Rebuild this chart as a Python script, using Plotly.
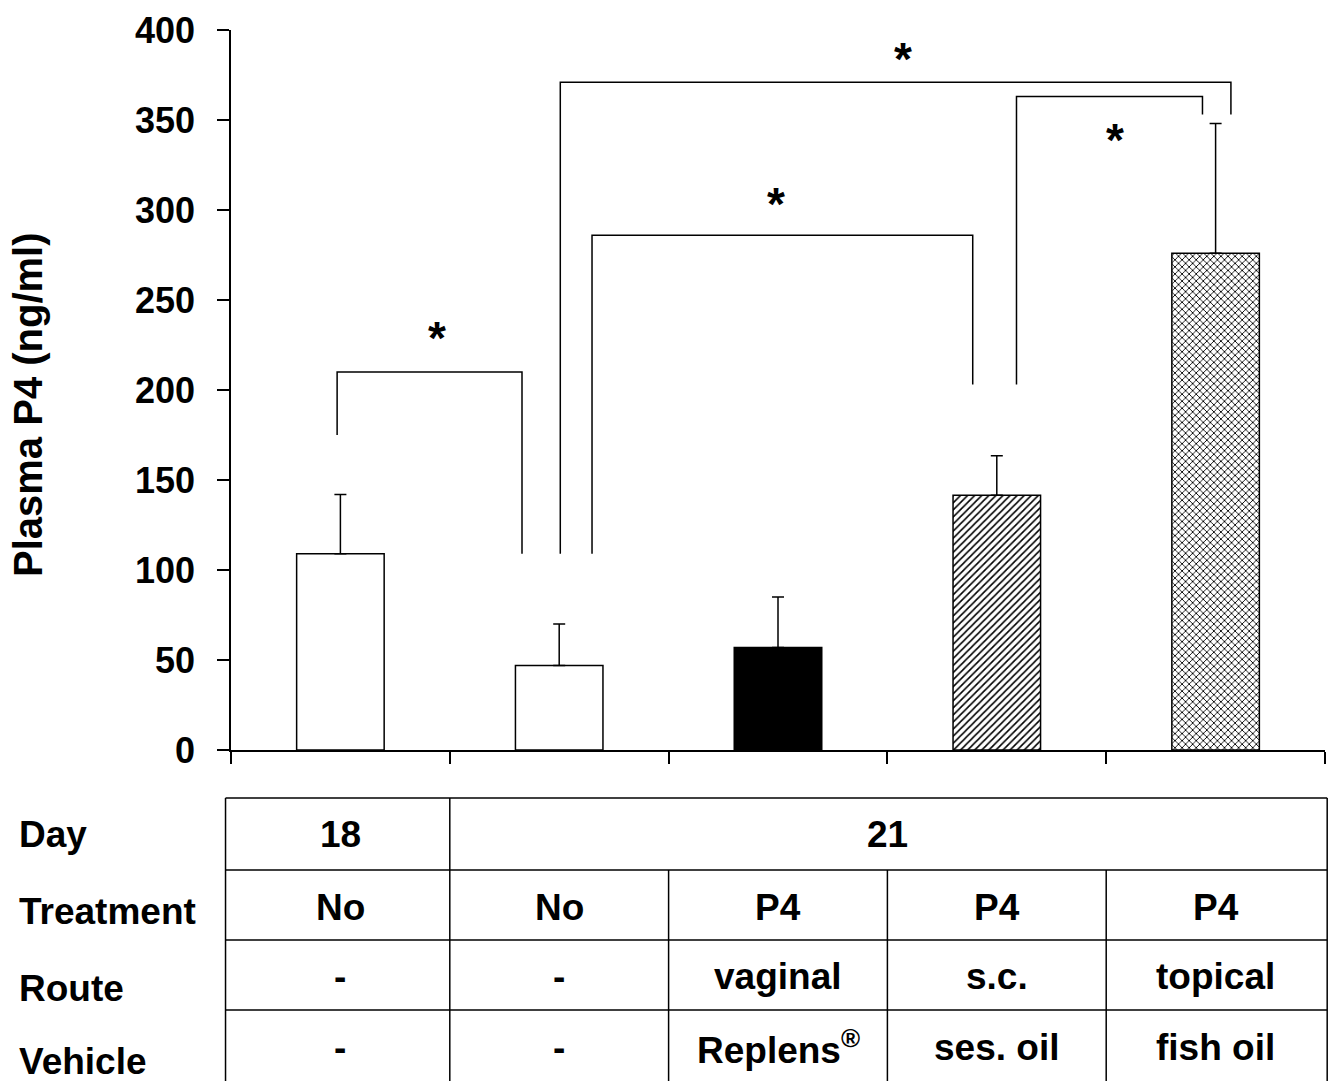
import plotly.graph_objects as go

# ---------------- data ----------------
groups = ["Day 18 no treatment", "Day 21 no treatment", "P4 vaginal Replens",
          "P4 s.c. sesame oil", "P4 topical fish oil"]
group_index = [0, 1, 2, 3, 4]
p4_mean = [109, 47, 57, 141.5, 276]
p4_sem = [33, 23, 28, 22, 72]
bar_colors = ["white", "white", "black", "white", "white"]
bar_patterns = ["", "", "", "/", "x"]

y_ticks = [0, 50, 100, 150, 200, 250, 300, 350, 400]

# significance brackets (x in group index units, y in ng/ml)
bracket_x = [[-0.015, -0.015, 0.83, 0.83],
             [1.15, 1.15, 2.89, 2.89],
             [1.005, 1.005, 4.07, 4.07],
             [3.09, 3.09, 3.94, 3.94]]
bracket_y = [[175, 210, 210, 109],
             [109, 286, 286, 203],
             [109, 371, 371, 353],
             [203, 363, 363, 353]]
star_x = [0.44, 1.99, 2.57, 3.54]
star_y = [233, 307, 388, 343]

# table below the chart
row_titles = ["Day", "Treatment", "Route", "Vehicle"]
day_values = ["18", "21"]
day_spans = [[0, 0], [1, 4]]
treatment = ["No", "No", "P4", "P4", "P4"]
route = ["-", "-", "vaginal", "s.c.", "topical"]
vehicle = ["-", "-", "Replens<sup>®</sup>", "ses. oil", "fish oil"]

# ---------------- layout helpers ----------------
W, H = 1336, 1081
ML, MR, MT, MB = 231, 11, 30, 0
plot_h = H - MT - MB
y0_px = 750  # pixel row of the zero line


def py(px):
    """pixel row -> paper y"""
    return (H - MB - px) / plot_h


FONT = "Liberation Sans, Arial, sans-serif"

fig = go.Figure()

for i in range(len(group_index)):
    pat = dict(shape=bar_patterns[i], fgcolor="black", bgcolor="white",
               fgopacity=1, fillmode="overlay", size=5, solidity=0.32)
    fig.add_trace(go.Bar(
        x=[group_index[i]], y=[p4_mean[i]], width=0.40,
        marker=dict(color=bar_colors[i],
                    line=dict(color="black", width=1.5),
                    pattern=pat if bar_patterns[i] else None),
        error_y=dict(type="data", symmetric=False, array=[p4_sem[i]],
                     arrayminus=[0], color="black", thickness=1.5, width=6),
        showlegend=False, hoverinfo="skip", name=groups[i],
    ))

for bx_, by_ in zip(bracket_x, bracket_y):
    fig.add_trace(go.Scatter(x=bx_, y=by_, mode="lines",
                             line=dict(color="black", width=1.5),
                             showlegend=False, hoverinfo="skip"))

annotations = []
for sx, sy in zip(star_x, star_y):
    annotations.append(dict(x=sx, y=sy, xref="x", yref="y", text="<b>*</b>",
                            showarrow=False, yshift=-7,
                            font=dict(family=FONT, size=46, color="black")))

# y-axis title
annotations.append(dict(x=(28 - ML) / (W - ML - MR), y=py(405), xref="paper", yref="paper",
                        text="<b>Plasma P4 (ng/ml)</b>", textangle=-90,
                        showarrow=False, xanchor="center", yanchor="middle",
                        font=dict(family=FONT, size=40, color="black")))

# table
row_lines_px = [798, 870, 940, 1010]
row_text_px = [835, 907, 977, 1047]
label_px = [835, 912, 988, 1061]
tbl_left, tbl_right = -0.005, 1.002


def bx(b):
    """category boundary (in group units) -> paper x"""
    return (b + 0.5) / len(group_index)


shapes = []
for rp in row_lines_px:
    shapes.append(dict(type="line", xref="paper", yref="paper",
                       x0=tbl_left, x1=tbl_right, y0=py(rp), y1=py(rp),
                       line=dict(color="black", width=1.5)))
for xv in [tbl_left, tbl_right]:
    shapes.append(dict(type="line", xref="paper", yref="paper",
                       x0=xv, x1=xv, y0=py(row_lines_px[0]), y1=py(H),
                       line=dict(color="black", width=1.5)))
shapes.append(dict(type="line", xref="paper", yref="paper",
                   x0=bx(0.5), x1=bx(0.5), y0=py(row_lines_px[0]), y1=py(H),
                   line=dict(color="black", width=1.5)))
for b in [1.5, 2.5, 3.5]:
    shapes.append(dict(type="line", xref="paper", yref="paper",
                       x0=bx(b), x1=bx(b), y0=py(row_lines_px[1]), y1=py(H),
                       line=dict(color="black", width=1.5)))

cell_font = dict(family=FONT, size=37, color="black")
for val, (a, b) in zip(day_values, day_spans):
    annotations.append(dict(x=(a + b) / 2, y=py(row_text_px[0]), xref="x", yref="paper",
                            text="<b>%s</b>" % val, showarrow=False,
                            xanchor="center", yanchor="middle", font=cell_font))
for r, row in enumerate([treatment, route, vehicle], start=1):
    for i, val in enumerate(row):
        annotations.append(dict(x=group_index[i], y=py(row_text_px[r]), xref="x", yref="paper",
                                text="<b>%s</b>" % val, showarrow=False,
                                xanchor="center", yanchor="middle", font=cell_font))
for t, lp in zip(row_titles, label_px):
    annotations.append(dict(x=(17 - ML) / (W - ML - MR), y=py(lp), xref="paper", yref="paper",
                            text="<b>%s</b>" % t, showarrow=False,
                            xanchor="left", yanchor="middle", font=cell_font))

fig.update_layout(
    width=W, height=H,
    margin=dict(l=ML, r=MR, t=MT, b=MB, autoexpand=False),
    paper_bgcolor="white", plot_bgcolor="white",
    barmode="overlay",
    xaxis=dict(range=[-0.5, 4.5], tickvals=[-0.5, 0.5, 1.5, 2.5, 3.5, 4.5],
               showticklabels=False, ticks="outside", ticklen=12, tickwidth=1.5,
               tickcolor="black", showline=True, linecolor="black", linewidth=1.5,
               showgrid=False, zeroline=False, fixedrange=True, automargin=False),
    yaxis=dict(range=[0, 400], tickvals=y_ticks, domain=[py(y0_px), 1],
               ticks="outside", ticklen=12, tickwidth=1.5, tickcolor="black",
               showline=True, linecolor="black", linewidth=1.5,
               showgrid=False, zeroline=False, ticklabelstandoff=15,
               tickfont=dict(family=FONT, size=36, color="black", weight="bold"),
               fixedrange=True, automargin=False),
    shapes=shapes,
    annotations=annotations,
)

fig.write_html("out.html", config={"displayModeBar": False},
               post_script="document.body.style.margin='0';document.body.style.overflow='hidden';")
